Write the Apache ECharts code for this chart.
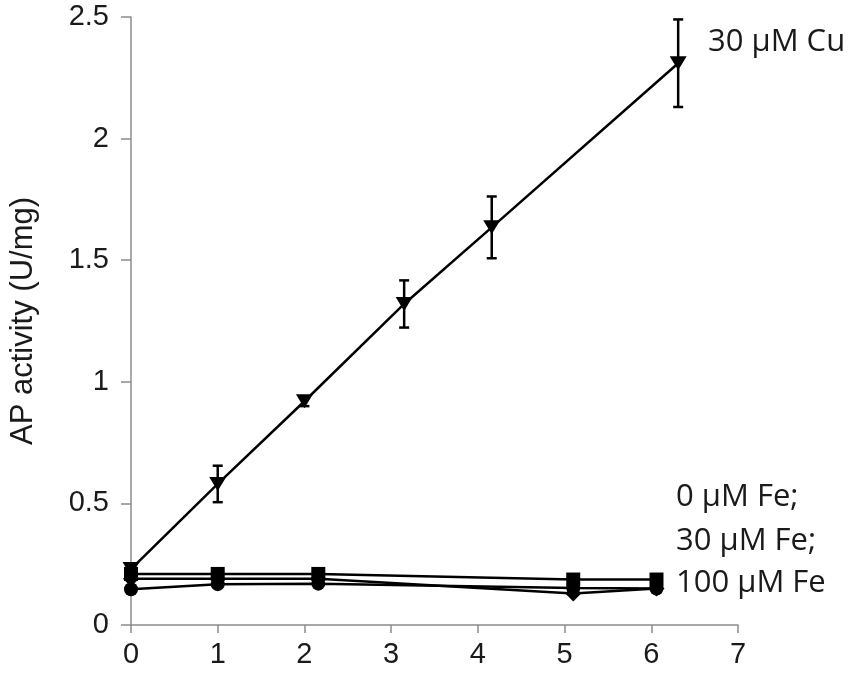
<!DOCTYPE html>
<html>
<head>
<meta charset="utf-8">
<script src="https://cdn.jsdelivr.net/npm/echarts@6/dist/echarts.min.js"></script>
<style>
  html, body { margin: 0; padding: 0; background: #fff; }
  #chart { width: 851px; height: 674px; }
</style>
</head>
<body>
<div id="chart"></div>
<script>
// 30 μM Cu 数据（时间, 活性, 误差）
const cuX = [0, 1, 2, 3.15, 4.16, 6.31];
const cuY = [0.23, 0.58, 0.92, 1.32, 1.635, 2.31];
const cuErr = [0.02, 0.075, 0.02, 0.097, 0.127, 0.18];

// Fe 各组（共用时间点）
const feX = [0, 1, 2.16, 5.1, 6.06];
const fe0 = [0.21, 0.21, 0.21, 0.187, 0.187];
const fe30 = [0.19, 0.19, 0.19, 0.13, 0.15];
const fe100 = [0.147, 0.168, 0.17, 0.152, 0.15];

const xTicks = [0, 1, 2, 3, 4, 5, 6, 7];
const yTicks = [0, 0.5, 1, 1.5, 2, 2.5];

function pairs(xs, ys) {
    return xs.map((x, i) => [x, ys[i]]);
}

const chart = echarts.init(document.getElementById('chart'));

const axisGray = '#8c8c8c';
const labelFont = { fontFamily: 'Liberation Sans, Arial, sans-serif', fontSize: 29, color: '#1a1a1a' };
const noteFont = { fontFamily: 'Open Sans, sans-serif', fontSize: 31, fill: '#1a1a1a' };

const option = {
    animation: false,
    backgroundColor: '#fff',
    grid: { left: 128, right: 113, top: 17, bottom: 49 },
    xAxis: {
        type: 'value', min: xTicks[0], max: xTicks[xTicks.length - 1], interval: 1,
        axisLine: { show: true, lineStyle: { color: axisGray, width: 1.5 } },
        axisTick: { show: true, length: 8, inside: false, lineStyle: { color: axisGray, width: 1.5 } },
        splitLine: { show: false },
        axisLabel: Object.assign({ margin: 15 }, labelFont)
    },
    yAxis: {
        type: 'value', min: yTicks[0], max: yTicks[yTicks.length - 1], interval: 0.5,
        name: 'AP activity (U/mg)', nameLocation: 'middle', nameGap: 92, nameRotate: 90,
        nameTextStyle: { fontFamily: 'Liberation Sans, Arial, sans-serif', fontSize: 31, color: '#1a1a1a' },
        axisLine: { show: true, lineStyle: { color: axisGray, width: 1.5 } },
        axisTick: { show: true, length: 10, lineStyle: { color: axisGray, width: 1.5 } },
        splitLine: { show: false },
        axisLabel: Object.assign({ margin: 22 }, labelFont)
    },
    series: [
        {
            name: '0 μM Fe', type: 'line', data: pairs(feX, fe0),
            symbol: 'rect', symbolSize: 14,
            lineStyle: { color: '#000', width: 2.5 }, itemStyle: { color: '#000' }, z: 3
        },
        {
            name: '30 μM Fe', type: 'line', data: pairs(feX, fe30),
            symbol: 'diamond', symbolSize: 16,
            lineStyle: { color: '#000', width: 2.5 }, itemStyle: { color: '#000' }, z: 3
        },
        {
            name: '100 μM Fe', type: 'line', data: pairs(feX, fe100),
            symbol: 'circle', symbolSize: 14,
            lineStyle: { color: '#000', width: 2.5 }, itemStyle: { color: '#000' }, z: 3
        },
        {
            name: '30 μM Cu', type: 'line', data: pairs(cuX, cuY),
            symbol: 'triangle', symbolRotate: 180, symbolSize: [17, 14],
            lineStyle: { color: '#000', width: 2.5 }, itemStyle: { color: '#000' }, z: 4
        },
        {
            // 误差线
            name: 'cu-err', type: 'custom',
            data: cuX.map((x, i) => [x, cuY[i] - cuErr[i], cuY[i] + cuErr[i]]),
            renderItem: function (params, api) {
                const lo = api.coord([api.value(0), api.value(1)]);
                const hi = api.coord([api.value(0), api.value(2)]);
                const cap = 5;
                const style = { stroke: '#000', lineWidth: 2.5 };
                return {
                    type: 'group',
                    children: [
                        { type: 'line', shape: { x1: lo[0], y1: lo[1], x2: hi[0], y2: hi[1] }, style: style },
                        { type: 'line', shape: { x1: lo[0] - cap, y1: lo[1], x2: lo[0] + cap, y2: lo[1] }, style: style },
                        { type: 'line', shape: { x1: hi[0] - cap, y1: hi[1], x2: hi[0] + cap, y2: hi[1] }, style: style }
                    ]
                };
            },
            z: 5
        }
    ],
    graphic: [
        { type: 'text', left: 708, top: 27, style: Object.assign({ text: '30 μM Cu' }, noteFont) },
        { type: 'text', left: 676, top: 482, style: Object.assign({ text: '0 μM Fe;' }, noteFont) },
        { type: 'text', left: 676, top: 526, style: Object.assign({ text: '30 μM Fe;' }, noteFont) },
        { type: 'text', left: 676, top: 568, style: Object.assign({ text: '100 μM Fe' }, noteFont) }
    ]
};

chart.setOption(option);
</script>
</body>
</html>
